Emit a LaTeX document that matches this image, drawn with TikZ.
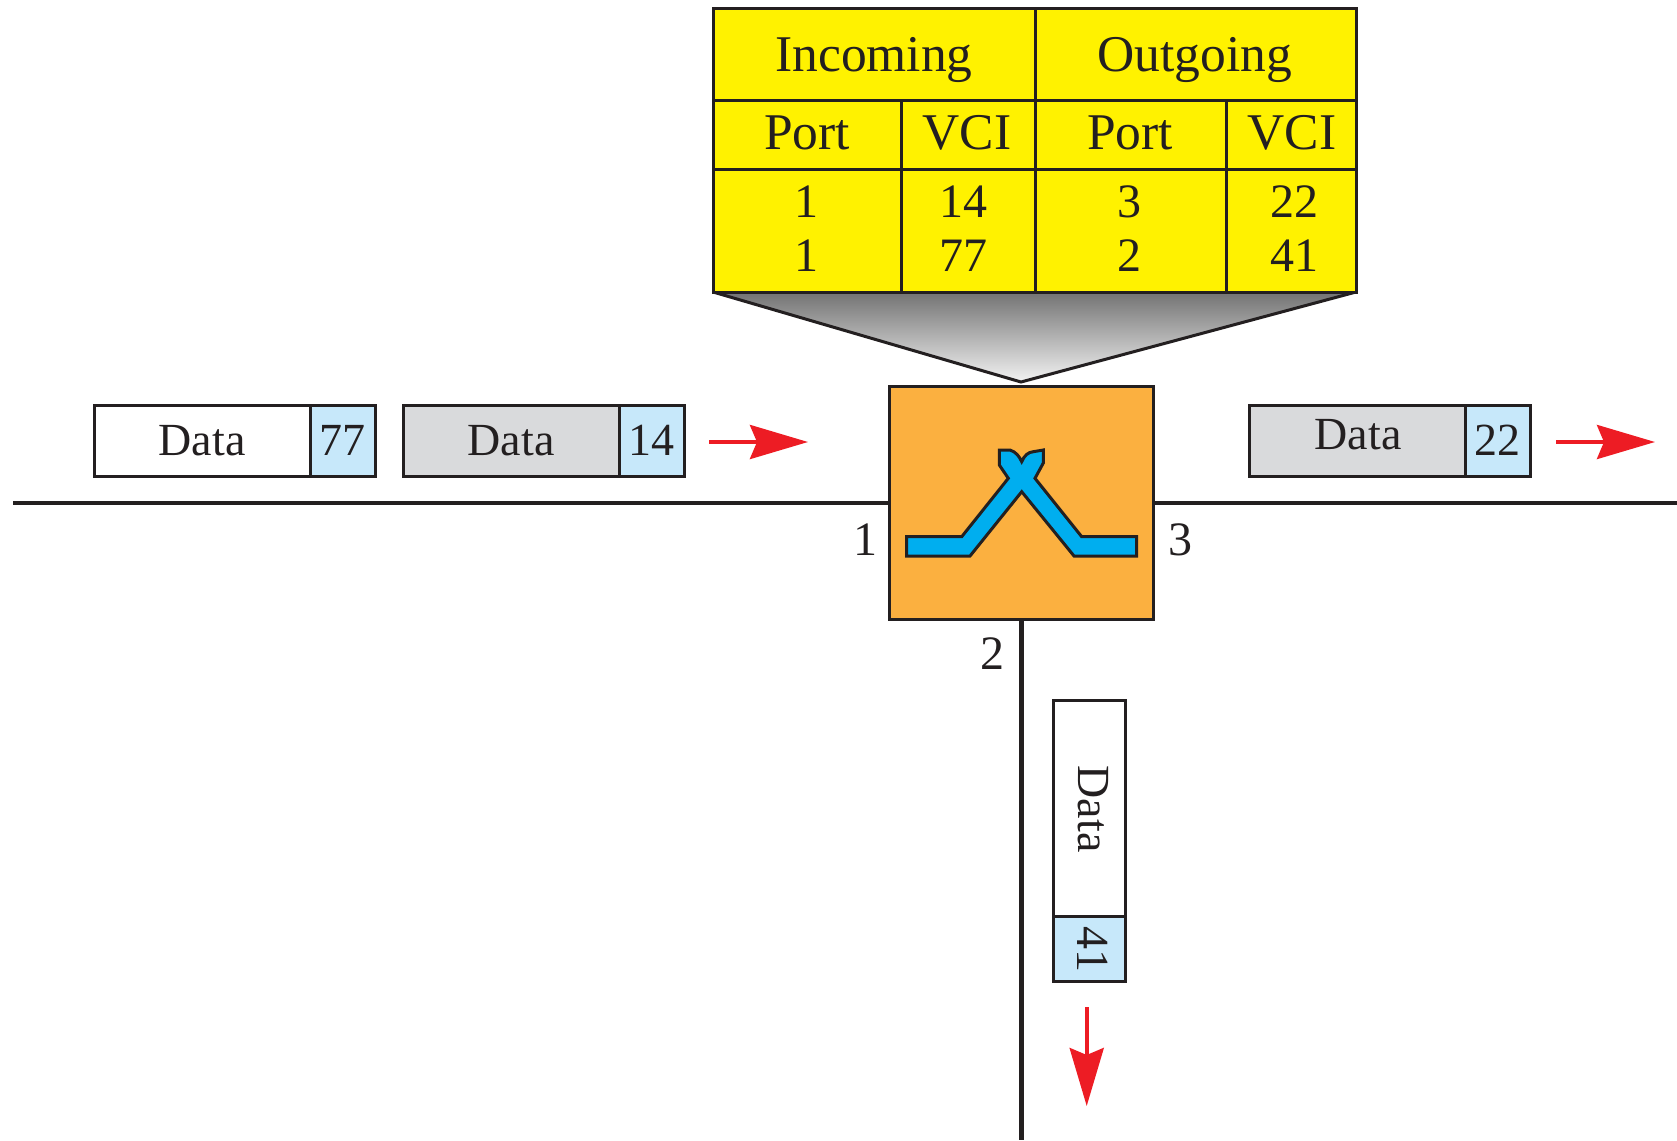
\documentclass[tikz,border=0pt]{standalone}
\usepackage{fontspec}
\setmainfont{Liberation Serif}
\usetikzlibrary{arrows.meta}
\definecolor{tblyellow}{HTML}{FFF200}
\definecolor{swOrange}{HTML}{FBB040}
\definecolor{swBlue}{HTML}{00AEEF}
\definecolor{hdrBlue}{HTML}{C7E8FA}
\definecolor{pktGray}{HTML}{D9DADC}
\definecolor{inkc}{HTML}{231F20}
\definecolor{arrRed}{HTML}{ED1C24}
\tikzset{
 x=1pt,y=-1pt,
 ln/.style={draw=inkc,line width=3pt},
 cell/.style={ln,fill=tblyellow,anchor=north west,inner sep=0pt,outer sep=0pt},
 txt/.style={anchor=base,inner sep=0pt,text=inkc,font=\fontsize{48}{48}\selectfont},
 hdr/.style={txt,font=\fontsize{51.5}{51.5}\selectfont},
 pkt/.style={ln,anchor=north west,inner sep=0pt,outer sep=0pt,font=\fontsize{46}{46}\selectfont,text=inkc,text height=30pt,text depth=0pt},
 redarrow/.style={draw=arrRed,line width=4pt,-{Stealth[length=58pt,width=34pt,inset=7pt]}},
 wire/.style={draw=inkc,line width=4.5pt},
}
\newcommand{\cellat}[5]{\node[cell,minimum width=#3,minimum height=#4] (#5) at (#1,#2) {};}
\begin{document}
\begin{tikzpicture}
\useasboundingbox (0,0) rectangle (1677,1140);
% switch and wires
\node[ln,fill=swOrange,anchor=north west,inner sep=0pt,outer sep=0pt,minimum width=264pt,minimum height=233pt] (sw) at (889.5,386.5) {};
\coordinate (wl) at (13,503);
\coordinate (wr) at (1677,503);
\coordinate (wb) at (1021.5,1140);
\draw[wire] (wl) -- (wl -| sw.west);
\draw[wire] (wr -| sw.east) -- (wr);
\draw[wire] (wb |- sw.south) -- (wb);
% funnel
\coordinate (ftl) at (713,292);
\coordinate (ftr) at (1356,292);
\coordinate (ftip) at (1021,382);
\shade[top color=black!55!white,bottom color=black!5!white] (ftl) -- (ftr) -- (ftip) -- cycle;
\draw[draw=inkc,line width=3pt] (ftl) -- (ftip) -- (ftr);
% switch symbol
\draw[draw=inkc,line width=3pt,fill=swBlue,line join=miter]
 (906.7,536.7) -- (961.7,536.7) -- (1008.3,478.3) -- (999.3,465) -- (999.3,450)
 -- (1010,450) .. controls (1016,452) and (1019,456) .. (1021.7,461.7)
 .. controls (1024,456) and (1028,452) .. (1033.3,451.7) -- (1043.3,450) -- (1043.3,463)
 -- (1035,478.3) -- (1081.7,536.7) -- (1136.7,536.7) -- (1136.7,556) -- (1074,556)
 -- (1021.7,491.7) -- (970,556) -- (906.7,556) -- cycle;
% table
\cellat{713}{9}{322pt}{91pt}{hin}
\cellat{1035}{9}{321pt}{91pt}{hout}
\cellat{713}{100}{188pt}{69pt}{pa}
\cellat{901}{100}{134pt}{69pt}{va}
\cellat{1035}{100}{191pt}{69pt}{pb}
\cellat{1226}{100}{130pt}{69pt}{vb}
\cellat{713}{169}{188pt}{123pt}{ra}
\cellat{901}{169}{134pt}{123pt}{rb}
\cellat{1035}{169}{191pt}{123pt}{rc}
\cellat{1226}{169}{130pt}{123pt}{rd}
\node[hdr] (t1) at (874,71) {Incoming};
\node[hdr] (t2) at (1195,71) {Outgoing};
\node[hdr] (t3) at (807,149) {Port};
\node[hdr] (t4) at (967,149) {VCI};
\node[hdr] (t5) at (1130,149) {Port};
\node[hdr] (t6) at (1292,149) {VCI};
\node[txt] (t7) at (806,217) {1};
\node[txt] (t8) at (963,217) {14};
\node[txt] (t9) at (1129,217) {3};
\node[txt] (t10) at (1294,217) {22};
\node[txt] (t11) at (806,271) {1};
\node[txt] (t12) at (963,271) {77};
\node[txt] (t13) at (1129,271) {2};
\node[txt] (t14) at (1294,271) {41};
% packets
\node[pkt,fill=white,minimum width=216pt,minimum height=71pt] (p1) at (94,405) {Data};
\node[pkt,fill=hdrBlue,minimum width=65pt,minimum height=71pt] (p1h) at (310,405) {77};
\node[pkt,fill=pktGray,minimum width=216pt,minimum height=71pt] (p2) at (403,405) {Data};
\node[pkt,fill=hdrBlue,minimum width=65pt,minimum height=71pt] (p2h) at (619,405) {14};
\node[ln,fill=pktGray,anchor=north west,inner sep=0pt,outer sep=0pt,minimum width=216pt,minimum height=71pt] (p3) at (1249,405) {};
\node[txt,font=\fontsize{46}{46}\selectfont] (p3t) at (1358,449) {Data};
\node[pkt,fill=hdrBlue,minimum width=65pt,minimum height=71pt] (p3h) at (1465,405) {22};
\node[ln,fill=white,inner sep=0pt,outer sep=0pt,minimum width=72pt,minimum height=216pt] (p4) at (1089,808.5) {};
\node[ln,fill=hdrBlue,inner sep=0pt,outer sep=0pt,minimum width=72pt,minimum height=65pt] (p4h) at (1089,949) {};
\node[txt,rotate=-90,anchor=center,font=\fontsize{46}{46}\selectfont] (p4t) at (1093,809) {Data};
\node[txt,rotate=-90,anchor=center,font=\fontsize{46}{46}\selectfont] (p4n) at (1093,949) {41};
% arrows
\coordinate (a1s) at (709,442); \coordinate (a1e) at (808,442);
\coordinate (a2s) at (1556,442); \coordinate (a2e) at (1655,442);
\coordinate (a3s) at (1086.7,1007); \coordinate (a3e) at (1086.7,1106);
\draw[redarrow] (a1s) -- (a1e);
\draw[redarrow] (a2s) -- (a2e);
\draw[redarrow] (a3s) -- (a3e);
% port numbers
\node[txt] (n1) at (865,555) {1};
\node[txt] (n3) at (1180,555) {3};
\node[txt] (n2) at (992,669) {2};
\end{tikzpicture}
\end{document}
